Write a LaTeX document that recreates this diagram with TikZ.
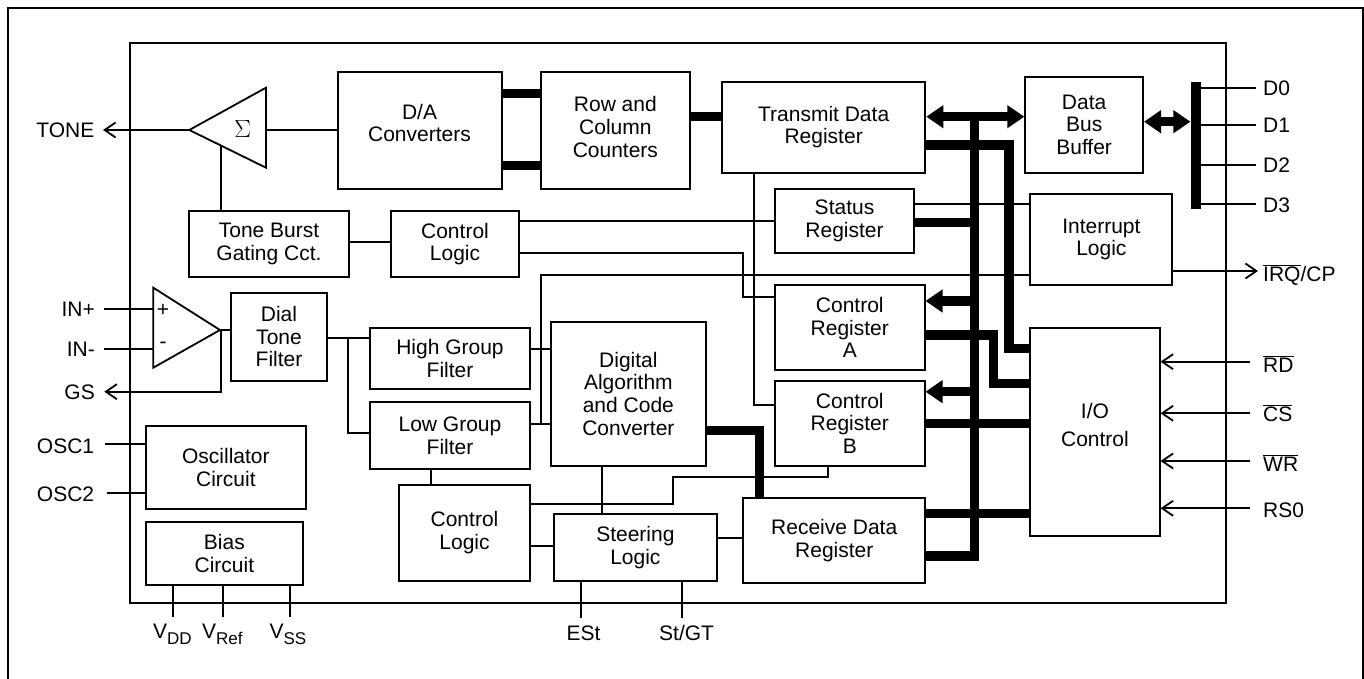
\documentclass[tikz,border=0pt]{standalone}
\usepackage{fontspec}
\setmainfont{Liberation Sans}
\usetikzlibrary{arrows.meta}
\newcommand\mysub[1]{\raisebox{-6pt}{\fontsize{17}{17}\selectfont #1}}
\newcommand\ovl[1]{$\overline{\hbox{#1}}$}
\begin{document}
\begin{tikzpicture}[x=1pt,y=-1pt,
  every node/.style={font=\fontsize{21}{22.6}\selectfont},
  box/.style={draw, line width=2pt, align=center, inner sep=0pt},
  wire/.style={line width=2pt},
  bus/.style={line width=9.5pt},
  otip/.style={-{Straight Barb[length=11pt,width=15pt,line width=1.8pt]}},
  bigtip/.style={-{Triangle[length=17pt,width=22pt]}},
  dbltip/.style={{Triangle[length=17pt,width=22pt]}-{Triangle[length=17pt,width=22pt]}},
  pinl/.style={anchor=base east, inner sep=0pt, yshift=-7.5pt},
  pinr/.style={anchor=base west, inner sep=0pt, yshift=-7.5pt},
  pinb/.style={anchor=base west, inner sep=0pt},
]
\useasboundingbox (0,0) rectangle (1364,679);
% frames
\draw[line width=2pt] (8.3,8.5) rectangle (1363,700);
\draw[line width=2pt] (130,43.3) rectangle (1225.7,602.7);

% boxes
\node[box, minimum width=164pt, minimum height=116.7pt] (da) at (419.5,130.35) {D/A\\Converters\\[-8pt]\mbox{}};
\node[box, minimum width=149.3pt, minimum height=116.7pt] (rcc) at (615.35,130.35) {Row and\\Column\\Counters\\[-15.6pt]\mbox{}};
\node[box, minimum width=203.3pt, minimum height=91pt] (tdr) at (823.65,127.2) {Transmit Data\\Register\\[-17.6pt]\mbox{}};
\node[box, minimum width=117.7pt, minimum height=96pt] (dbb) at (1084.15,124.7) {Data\\Bus\\Buffer};
\node[box, minimum width=160pt, minimum height=66.6pt] (tbg) at (269,244) {Tone Burst\\Gating Cct.};
\node[box, minimum width=128.6pt, minimum height=66.6pt] (cla) at (455,244) {Control\\Logic};
\node[box, minimum width=139pt, minimum height=63.7pt] (sr) at (844.5,220.85) {Status\\Register};
\node[box, minimum width=141.9pt, minimum height=91pt] (il) at (1101.35,239.5) {Interrupt\\Logic};
\node[box, minimum width=149.5pt, minimum height=85pt] (cra) at (849.75,327.5) {Control\\Register\\A};
\node[box, minimum width=149.5pt, minimum height=84.7pt] (crb) at (849.75,423.35) {Control\\Register\\B};
\node[box, minimum width=129.1pt, minimum height=207.7pt] (io) at (1094.95,432.15) {I/O\\[5pt]Control\\[-7.6pt]\mbox{}};
\node[box, minimum width=182.1pt, minimum height=85pt] (rdr) at (834.25,540.8) {Receive Data\\Register};
\node[box, minimum width=96.6pt, minimum height=88pt] (dtf) at (279,336.7) {Dial\\Tone\\Filter};
\node[box, minimum width=160pt, minimum height=60.7pt] (hgf) at (450,358.65) {High Group\\Filter};
\node[box, minimum width=160pt, minimum height=66.7pt] (lgf) at (450,435.65) {Low Group\\Filter};
\node[box, minimum width=155.3pt, minimum height=144pt] (dac) at (628.35,393.7) {Digital\\Algorithm\\and Code\\Converter};
\node[box, minimum width=131pt, minimum height=95.7pt] (clb) at (464.5,532.85) {Control\\Logic};
\node[box, minimum width=163.2pt, minimum height=66.7pt] (sl) at (635.4,547.35) {Steering\\Logic};
\node[box, minimum width=160.3pt, minimum height=83.3pt] (osc) at (225.85,467.35) {Oscillator\\Circuit};
\node[box, minimum width=157.3pt, minimum height=62.7pt] (bias) at (224.35,553.35) {Bias\\Circuit};
\node[fill, minimum width=10pt, minimum height=127pt, inner sep=0pt] (dbar) at (1195.6,145.8) {};

% summing amplifier
\coordinate (sigtip) at (189.3,130);
\coordinate (sigtop) at (266,87.7);
\coordinate (sigbot) at (266,167.7);
\coordinate (sigout) at (266,130);
\coordinate (sigin) at (220.7,145.4);
\draw[line width=1.8pt, line join=miter] (sigtip) -- (sigtop) -- (sigbot) -- cycle;
\node[font=\fontsize{23}{23}\selectfont] (sig) at (242.7,129) {$\Sigma$};
% input op amp
\coordinate (opa) at (153.3,287.7);
\coordinate (opb) at (153.3,367.7);
\coordinate (opout) at (220,330);
\draw[line width=1.8pt] (opa) -- (opout) -- (opb) -- cycle;
\node[inner sep=0pt] (plus) at (163,310) {+};
\node[inner sep=0pt] (minus) at (163,345.7) {-};

% pin labels left
\node[pinl] (tone) at (94.5,130) {TONE};
\node[pinl] (inp) at (95,309) {IN+};
\node[pinl] (inm) at (95,349) {IN-};
\node[pinl] (gs) at (95,391.7) {GS};
\node[pinl] (osca) at (94.3,446) {OSC1};
\node[pinl] (oscb) at (94.3,494) {OSC2};
\coordinate (toneend) at (103,130);
\coordinate (inpend) at (104.3,309);
\coordinate (inmend) at (104.3,349);
\coordinate (gsend) at (104.3,391.7);
\coordinate (oscaend) at (105.3,444.3);
\coordinate (oscbend) at (107.3,492.7);
% pin labels right
\node[pinr] (d0) at (1263,88) {D0};
\node[pinr] (d1) at (1263,125.5) {D1};
\node[pinr] (d2) at (1263,165.5) {D2};
\node[pinr] (d3) at (1263,204.5) {D3};
\node[pinr] (irq) at (1263,274) {\ovl{IRQ}/CP};
\node[pinr] (rd) at (1263,365) {\ovl{RD}};
\node[pinr] (cs) at (1263,413.7) {\ovl{CS}};
\node[pinr] (wr) at (1263,463.7) {\ovl{WR}};
\node[pinr] (rs) at (1263,510) {RS0};
\coordinate (d0end) at (1255.7,87.7);
\coordinate (d1end) at (1255.7,125);
\coordinate (d2end) at (1255.7,165);
\coordinate (d3end) at (1255.7,204);
\coordinate (irqend) at (1258,271);
\coordinate (rdend) at (1249.8,361.7);
\coordinate (csend) at (1249.8,413.3);
\coordinate (wrend) at (1249.8,461);
\coordinate (rsend) at (1249.8,508.3);
% pin labels bottom
\node[pinb] (vdd) at (153,638.3) {V\mysub{DD}};
\node[pinb] (vref) at (202,638.3) {V\mysub{Ref}};
\node[pinb] (vss) at (269.4,638.3) {V\mysub{SS}};
\node[pinb] (est) at (566.5,640.7) {ESt};
\node[pinb] (stgt) at (659,640.7) {St/GT};
\coordinate (vddend) at (172.7,617.3);
\coordinate (vrefend) at (222.9,617.3);
\coordinate (vssend) at (289.8,617.3);
\coordinate (estend) at (580.8,618.3);
\coordinate (stgtend) at (681.6,618.3);
\coordinate (bend) at (759.3,430.5);

% thin wires
\draw[wire,otip] (sigtip) -- (toneend);
\draw[wire] (sigout) -- (da.west|-sigout);
\draw[wire] (sigin) -- (sigin|-tbg.north);
\draw[wire] (tbg.east|-0,242) -- (cla.west|-0,242);
\draw[wire] (cla.east|-0,220.7) -- (sr.west|-0,220.7);
\draw[wire] (cla.east|-0,252.7) -- (743.3,252.7) -- (743.3,296.7) -- (cra.west|-0,296.7);
\draw[wire] (sr.east|-0,204.3) -- (il.west|-0,204.3);
\draw[wire] (541.3,424) -- (541.3,275.3) -- (il.west|-0,275.3);
\draw[wire] (hgf.east|-0,349) -- (dac.west|-0,349);
\draw[wire] (lgf.east|-0,424) -- (dac.west|-0,424);
\draw[wire] (tdr.south-|754.2,0) -- (754.2,405) -- (crb.west|-0,405);
\draw[wire] (crb.south-|828.3,0) -- (828.3,477) -- (673.3,477) -- (673.3,504) -- (clb.east|-0,504);
\draw[wire] (dac.south-|602,0) -- (sl.north-|602,0);
\draw[wire] (lgf.south-|430.7,0) -- (clb.north-|430.7,0);
\draw[wire] (clb.east|-0,545.7) -- (sl.west|-0,545.7);
\draw[wire] (sl.east|-0,537.7) -- (rdr.west|-0,537.7);
\draw[wire] (sl.south-|estend) -- (estend);
\draw[wire] (sl.south-|stgtend) -- (stgtend);
\draw[wire] (bias.south-|vddend) -- (vddend);
\draw[wire] (bias.south-|vrefend) -- (vrefend);
\draw[wire] (bias.south-|vssend) -- (vssend);
\draw[wire] (oscaend) -- (osc.west|-oscaend);
\draw[wire] (oscbend) -- (osc.west|-oscbend);
\draw[wire] (inpend) -- (opa|-inpend);
\draw[wire] (inmend) -- (opa|-inmend);
\draw[wire] (opout) -- (dtf.west|-opout);
\draw[wire,otip] (220.7,330) -- (220.7,391.7) -- (gsend);
\draw[wire] (dtf.east|-0,337.7) -- (hgf.west|-0,337.7);
\draw[wire] (348.3,337.7) -- (348.3,433.3) -- (lgf.west|-0,433.3);
\draw[wire,otip] (il.east|-irqend) -- (irqend);
\draw[wire,otip] (rdend) -- (io.east|-rdend);
\draw[wire,otip] (csend) -- (io.east|-csend);
\draw[wire,otip] (wrend) -- (io.east|-wrend);
\draw[wire,otip] (rsend) -- (io.east|-rsend);
\draw[wire] (dbar.east|-d0end) -- (d0end);
\draw[wire] (dbar.east|-d1end) -- (d1end);
\draw[wire] (dbar.east|-d2end) -- (d2end);
\draw[wire] (dbar.east|-d3end) -- (d3end);

% buses
\draw[bus] (da.east|-0,93.3) -- (rcc.west|-0,93.3);
\draw[bus] (da.east|-0,165.3) -- (rcc.west|-0,165.3);
\draw[bus] (rcc.east|-0,116.7) -- (tdr.west|-0,116.7);
\draw[bus,dbltip] (tdr.east|-0,116.7) -- (dbb.west|-0,116.7);
\draw[bus,dbltip] (dbb.east|-0,121.7) -- (dbar.west|-0,121.7);
\draw[bus] (974.5,116.7) -- (974.5,556) -- (rdr.east|-0,556);
\draw[bus] (tdr.east|-0,145) -- (1009,145) -- (1009,348.3) -- (io.west|-0,348.3);
\draw[bus] (sr.east|-0,222.7) -- (974.5,222.7);
\draw[bus,bigtip] (974.5,301) -- (cra.east|-0,301);
\draw[bus] (cra.east|-0,335) -- (993.5,335) -- (993.5,383.3) -- (io.west|-0,383.3);
\draw[bus,bigtip] (974.5,391.7) -- (crb.east|-0,391.7);
\draw[bus] (crb.east|-0,423.3) -- (io.west|-0,423.3);
\draw[bus] (rdr.east|-0,513.3) -- (io.west|-0,513.3);
\draw[bus] (dac.east|-bend) -- (bend) -- (rdr.north-|bend);
\end{tikzpicture}
\end{document}
